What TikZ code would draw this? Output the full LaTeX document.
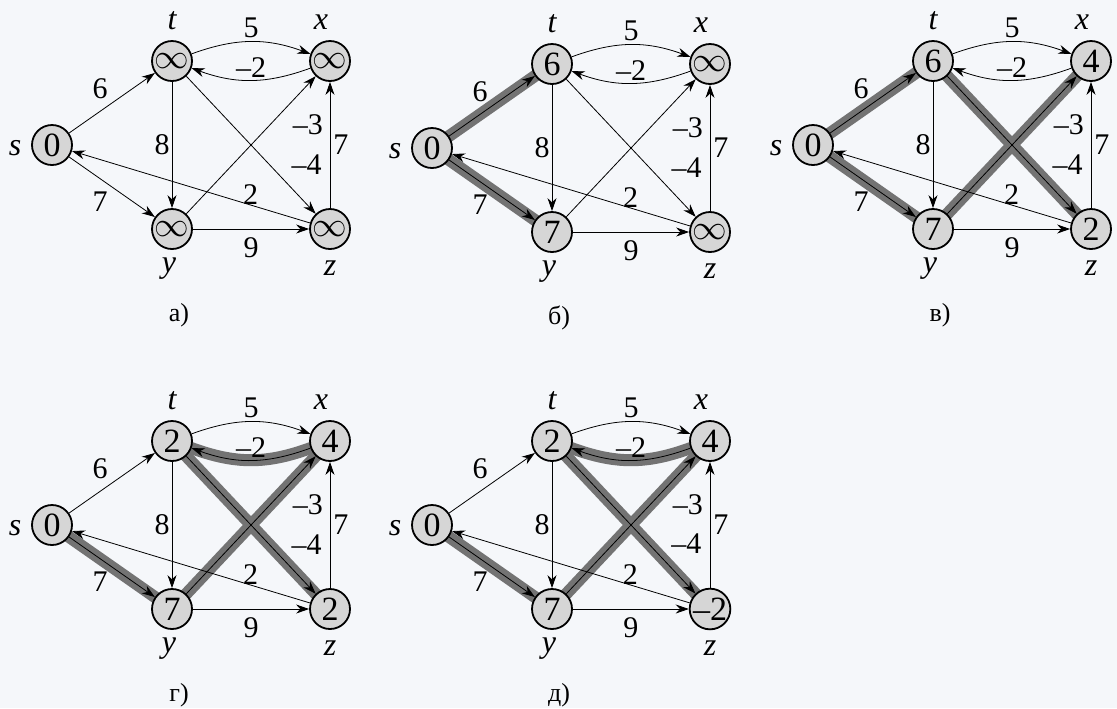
\documentclass[tikz,border=0pt]{standalone}
\usepackage{fontspec}
\setmainfont{Liberation Serif}
\usetikzlibrary{arrows.meta}
\pgfdeclarelayer{bands}
\pgfsetlayers{bands,main}
\definecolor{paper}{RGB}{245,247,250}
\definecolor{nodegray}{RGB}{214,214,214}
\definecolor{bandgray}{RGB}{115,115,115}
\tikzset{
  vert/.style={circle,draw,line width=0.9pt,fill=nodegray,minimum size=20pt,inner sep=0pt,font=\fontsize{17}{17}\selectfont},
  vname/.style={font=\fontsize{16}{16}\selectfont\itshape,inner sep=0pt},
  lbl/.style={font=\fontsize{15}{15}\selectfont,inner sep=2pt},
  band/.style={line width=6pt,draw=bandgray,line cap=round},
  caption/.style={font=\fontsize{13}{13}\selectfont}
}
% one panel: prefix, position of s, caption, values of t x y z
\newcommand{\bfgraph}[7]{%
\begin{scope}[shift={#2},name prefix=#1-]
\node[vert] (s) at (0,0) {0};
\node[vert] (t) at (120,84) {#4};
\node[vert] (x) at (278,84) {#5};
\node[vert] (y) at (120,-84) {#6};
\node[vert] (z) at (278,-84) {#7};
\node[vname] (sn) at (-37,-3) {s};
\node[vname] (tn) at (120,124) {t};
\node[vname] (xn) at (269,123) {x};
\node[vname] (yn) at (117,-124) {y};
\node[vname] (zn) at (278,-123) {z};
\draw[->] (s) -- node[lbl,above left] (w6) {6} (t);
\draw[->] (s) -- node[lbl,below left] (w7) {7} (y);
\draw[->] (t.20) .. controls +(20:47) and +(160:47) .. node[lbl,above] (w5) {5} (x.160);
\draw[->] (x.200) .. controls +(200:47) and +(340:47) .. node[lbl,above,inner sep=1pt] (wm2) {--2} (t.340);
\draw[->] (t) -- node[lbl,left,inner sep=1pt] (w8) {8} (y);
\draw[->] (t) -- node[lbl,pos=0.64,right=9pt] (wm4) {--4} (z);
\draw[->] (y) -- node[lbl,pos=0.65,right=9pt] (wm3) {--3} (x);
\draw[->] (z) -- node[lbl,right,inner sep=1.5pt] (wzx) {7} (x);
\draw[->] (z) -- node[lbl,pos=0.25,above,inner sep=0pt] (w2) {2} (s);
\draw[->] (y) -- node[lbl,below=2pt] (w9) {9} (z);
\node[caption] (cap) at (127,-170) {#3};
\end{scope}}

\begin{document}
\begin{tikzpicture}[x=0.5pt,y=0.5pt,>={Stealth[length=6.5pt,width=4.5pt]},line width=0.75pt]
\begin{pgfonlayer}{bands}
\fill[paper] (0,0) rectangle (1117,-708);
\end{pgfonlayer}
\useasboundingbox (0,0) rectangle (1117,-708);

\bfgraph{a}{(52,-145)}{а)}{$\infty$}{$\infty$}{$\infty$}{$\infty$}
\bfgraph{b}{(432,-148)}{б)}{6}{$\infty$}{7}{$\infty$}
\bfgraph{c}{(813,-145)}{в)}{6}{4}{7}{2}
\bfgraph{d}{(52,-525)}{г)}{2}{4}{7}{2}
\bfgraph{e}{(432,-525)}{д)}{2}{4}{7}{--2}

% shortest path tree edges
\begin{pgfonlayer}{bands}
\draw[band] (b-s.center) -- (b-t.center);
\draw[band] (b-s.center) -- (b-y.center);
\draw[band] (c-s.center) -- (c-t.center);
\draw[band] (c-s.center) -- (c-y.center);
\draw[band] (c-t.center) -- (c-z.center);
\draw[band] (c-y.center) -- (c-x.center);
\draw[band] (d-s.center) -- (d-y.center);
\draw[band] (d-x.200) .. controls +(200:47) and +(340:47) .. (d-t.340);
\draw[band] (d-t.center) -- (d-z.center);
\draw[band] (d-y.center) -- (d-x.center);
\draw[band] (e-s.center) -- (e-y.center);
\draw[band] (e-x.200) .. controls +(200:47) and +(340:47) .. (e-t.340);
\draw[band] (e-t.center) -- (e-z.center);
\draw[band] (e-y.center) -- (e-x.center);
\end{pgfonlayer}
\end{tikzpicture}
\end{document}
